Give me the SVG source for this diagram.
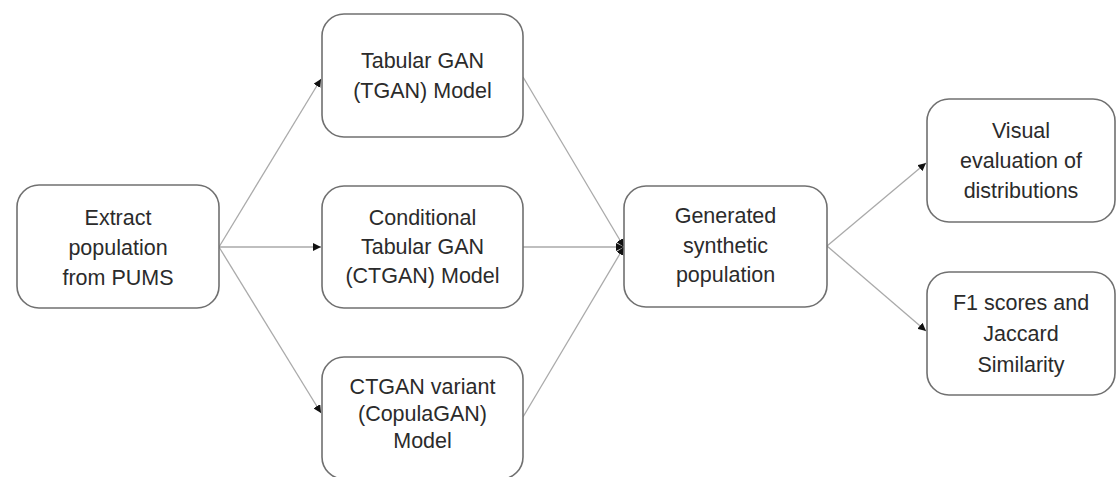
<svg xmlns="http://www.w3.org/2000/svg" width="1117" height="477" viewBox="0 0 1117 477">
<style>
.box{fill:#fff;stroke:#707070;stroke-width:1.6}
.lbl{font-family:"Liberation Sans",Arial,sans-serif;font-size:21.5px;fill:#2b2b2b;text-anchor:middle}
.edge{stroke:#aaaaaa;stroke-width:1.3;fill:none;marker-end:url(#ah)}
</style>
<defs>
<marker id="ah" viewBox="0 0 10 10" refX="10" refY="5" markerWidth="8" markerHeight="8" markerUnits="userSpaceOnUse" orient="auto">
<path d="M0,0 L10,5 L0,10 z" fill="#111"/>
</marker>
</defs>
<rect width="1117" height="477" fill="#fff"/>
<g id="connectors">
<line class="edge" x1="219" y1="247" x2="321" y2="79"/>
<line class="edge" x1="219" y1="247" x2="321" y2="247"/>
<line class="edge" x1="219" y1="247" x2="321" y2="413"/>
<line class="edge" x1="523" y1="77" x2="624" y2="247"/>
<line class="edge" x1="523" y1="247" x2="624" y2="247"/>
<line class="edge" x1="523" y1="417" x2="624" y2="247"/>
<line class="edge" x1="827" y1="246" x2="926" y2="163"/>
<line class="edge" x1="827" y1="246" x2="926" y2="331"/>
</g>
<g id="extract">
<rect class="box" x="17" y="185" width="202" height="123" rx="22"/>
<text class="lbl" x="118" y="225">Extract</text>
<text class="lbl" x="118" y="255">population</text>
<text class="lbl" x="118" y="285">from PUMS</text>
</g>
<g id="tgan">
<rect class="box" x="322" y="14" width="201" height="123" rx="22"/>
<text class="lbl" x="422.5" y="68">Tabular GAN</text>
<text class="lbl" x="422.5" y="98">(TGAN) Model</text>
</g>
<g id="ctgan">
<rect class="box" x="322" y="186" width="201" height="122" rx="22"/>
<text class="lbl" x="422.5" y="225">Conditional</text>
<text class="lbl" x="422.5" y="254">Tabular GAN</text>
<text class="lbl" x="422.5" y="283">(CTGAN) Model</text>
</g>
<g id="copulagan">
<rect class="box" x="322" y="357" width="201" height="122" rx="22"/>
<text class="lbl" x="422.5" y="394">CTGAN variant</text>
<text class="lbl" x="422.5" y="421">(CopulaGAN)</text>
<text class="lbl" x="422.5" y="448">Model</text>
</g>
<g id="generated">
<rect class="box" x="624" y="186" width="203" height="121" rx="22"/>
<text class="lbl" x="725.5" y="223">Generated</text>
<text class="lbl" x="725.5" y="253">synthetic</text>
<text class="lbl" x="725.5" y="282">population</text>
</g>
<g id="visual">
<rect class="box" x="927" y="99" width="188" height="123" rx="22"/>
<text class="lbl" x="1021" y="138">Visual</text>
<text class="lbl" x="1021" y="168">evaluation of</text>
<text class="lbl" x="1021" y="198">distributions</text>
</g>
<g id="f1">
<rect class="box" x="927" y="272" width="188" height="123" rx="22"/>
<text class="lbl" x="1021" y="310">F1 scores and</text>
<text class="lbl" x="1021" y="341">Jaccard</text>
<text class="lbl" x="1021" y="372">Similarity</text>
</g>
</svg>
